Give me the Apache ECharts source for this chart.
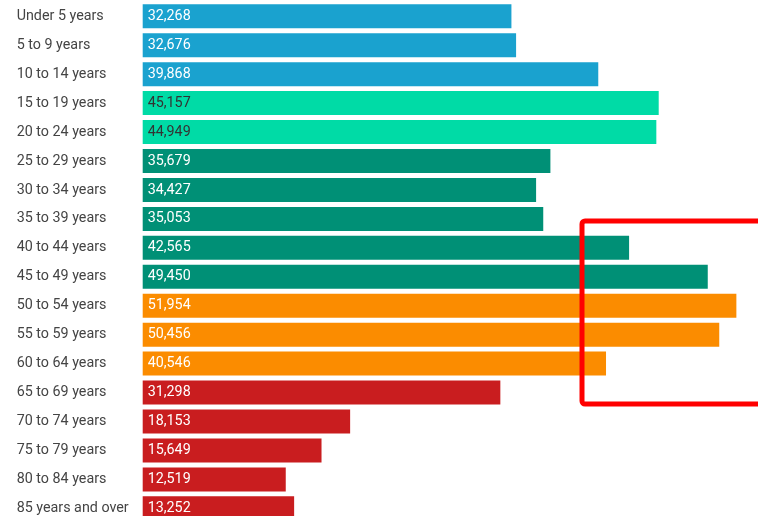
<!DOCTYPE html>
<html>
<head>
<meta charset="utf-8">
<script src="https://cdn.jsdelivr.net/npm/echarts@6/dist/echarts.min.js"></script>
<style>
html,body{margin:0;padding:0;background:#fff;overflow:hidden;}
#chart{width:758px;height:530px;}
</style>
</head>
<body>
<div id="chart"></div>
<script>
var categories = ["Under 5 years","5 to 9 years","10 to 14 years","15 to 19 years","20 to 24 years","25 to 29 years","30 to 34 years","35 to 39 years","40 to 44 years","45 to 49 years","50 to 54 years","55 to 59 years","60 to 64 years","65 to 69 years","70 to 74 years","75 to 79 years","80 to 84 years","85 years and over"];
var values = [32268,32676,39868,45157,44949,35679,34427,35053,42565,49450,51954,50456,40546,31298,18153,15649,12519,13252];
var groups = ["child","child","child","youth","youth","adult","adult","adult","adult","adult","senior","senior","senior","elder","elder","elder","elder","elder"];

var groupColor = {child:"#1aa2cf", youth:"#00dba6", adult:"#009076", senior:"#fb8c00", elder:"#c91d1f"};
var groupText = {child:"#ffffff", youth:"#333333", adult:"#ffffff", senior:"#ffffff", elder:"#ffffff"};

var chart = echarts.init(document.getElementById('chart'), null, {renderer:'canvas'});
chart.setOption({
  animation:false,
  grid:{left:142.7, top:1.8, width:594.2, height:521, containLabel:false},
  xAxis:{type:'value', min:0, max:52000, show:false},
  yAxis:{type:'category', data:categories, inverse:true,
    axisLine:{show:false}, axisTick:{show:false}, splitLine:{show:false},
    axisLabel:{align:'left', margin:126, color:'#444', fontSize:14.3, fontFamily:'Roboto'}},
  series:[{
    type:'bar', barWidth:24,
    data: values.map(function(v,i){
      return {value:v, itemStyle:{color:groupColor[groups[i]]},
        label:{color:groupText[groups[i]]}};
    }),
    label:{show:true, position:'insideLeft', distance:5, fontSize:14.3, fontFamily:'Roboto',
      formatter:function(p){return p.value.toLocaleString('en-US');}}
  }],
  graphic:[{type:'rect', shape:{x:582, y:221, width:220, height:183, r:3},
    style:{fill:null, stroke:'#ff0000', lineWidth:5}, z:100}]
});
</script>
</body>
</html>
